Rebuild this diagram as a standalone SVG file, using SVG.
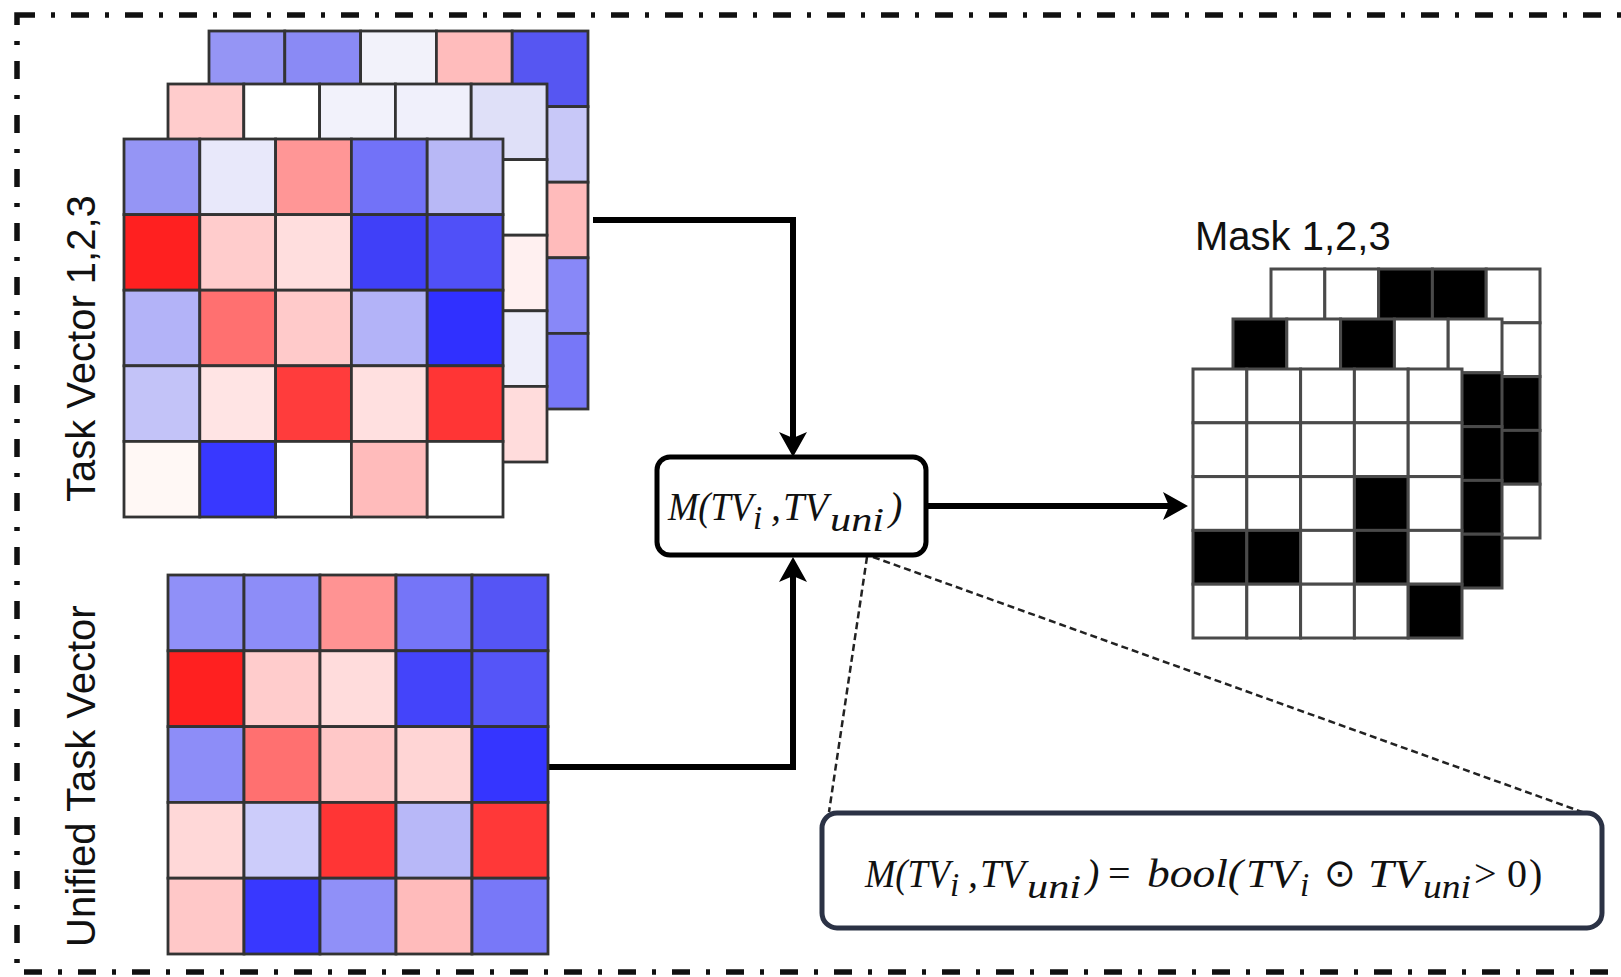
<svg xmlns="http://www.w3.org/2000/svg" width="1621" height="977" viewBox="0 0 1621 977">
<defs>
<style>
.c{stroke:#333;stroke-width:2.8}
.m{stroke:#4a4a4a;stroke-width:3}
.k{fill:#000}
.w{fill:#fff}
.lbl{font-family:"Liberation Sans",Arial,sans-serif;font-size:40px;fill:#111}
.mt{font-family:"Liberation Serif","Times New Roman",serif;font-style:italic;font-size:40px;fill:#111}
.ms{font-size:33px}
.mu{font-style:normal}
.conn{fill:none;stroke:#000;stroke-width:6}
.lead{fill:none;stroke:#222;stroke-width:2.5;stroke-dasharray:7 4}
</style>
<marker id="ah" markerUnits="userSpaceOnUse" viewBox="0 -15 30 30" refX="15" refY="0" markerWidth="30" markerHeight="30" orient="auto">
<path d="M0,-14 L25,0 L0,14 L6,0 Z" fill="#000"/>
</marker>
</defs>
<rect id="frame" x="17" y="15" width="1640" height="957" fill="none" stroke="#111" stroke-width="5.5" stroke-dasharray="18 16 4 16"/>

<g id="connectors">
<path class="lead" d="M867,557 L829,812"/>
<path class="lead" d="M873,557 L1585,813"/>
<path class="conn" d="M593,220 H793 V447" marker-end="url(#ah)"/>
<path class="conn" d="M548,767 H793 V567" marker-end="url(#ah)"/>
<path class="conn" d="M926,506 H1178" marker-end="url(#ah)"/>
</g>

<g id="task-vectors">
<g id="tv3" transform="translate(209,31)" class="c">
<rect x="0" y="0" width="75.8" height="75.6" fill="#9595f5"/>
<rect x="75.8" y="0" width="75.8" height="75.6" fill="#8a8af5"/>
<rect x="151.6" y="0" width="75.8" height="75.6" fill="#f2f2fa"/>
<rect x="227.4" y="0" width="75.8" height="75.6" fill="#ffbcbc"/>
<rect x="303.2" y="0" width="75.8" height="75.6" fill="#5656f2"/>
<rect x="303.2" y="75.6" width="75.8" height="75.6" fill="#c8c8f8"/>
<rect x="303.2" y="151.2" width="75.8" height="75.6" fill="#ffbbbb"/>
<rect x="303.2" y="226.8" width="75.8" height="75.6" fill="#8888f8"/>
<rect x="303.2" y="302.4" width="75.8" height="75.6" fill="#7777f8"/>
</g>
<g id="tv2" transform="translate(168,84)" class="c">
<rect x="0" y="0" width="75.8" height="75.6" fill="#ffcccc"/>
<rect x="75.8" y="0" width="75.8" height="75.6" fill="#ffffff"/>
<rect x="151.6" y="0" width="75.8" height="75.6" fill="#f2f2fb"/>
<rect x="227.4" y="0" width="75.8" height="75.6" fill="#f0f0fb"/>
<rect x="303.2" y="0" width="75.8" height="75.6" fill="#dfe0f8"/>
<rect x="303.2" y="75.6" width="75.8" height="75.6" fill="#ffffff"/>
<rect x="303.2" y="151.2" width="75.8" height="75.6" fill="#fff0f0"/>
<rect x="303.2" y="226.8" width="75.8" height="75.6" fill="#eeeefa"/>
<rect x="303.2" y="302.4" width="75.8" height="75.6" fill="#ffdcdc"/>
</g>
<g id="tv1" transform="translate(124,139)" class="c">
<rect x="0" y="0" width="75.8" height="75.6" fill="#9595f5"/>
<rect x="75.8" y="0" width="75.8" height="75.6" fill="#e8e8fa"/>
<rect x="151.6" y="0" width="75.8" height="75.6" fill="#ff9696"/>
<rect x="227.4" y="0" width="75.8" height="75.6" fill="#7272f8"/>
<rect x="303.2" y="0" width="75.8" height="75.6" fill="#b8b8f6"/>
<rect x="0" y="75.6" width="75.8" height="75.6" fill="#ff2020"/>
<rect x="75.8" y="75.6" width="75.8" height="75.6" fill="#ffcccc"/>
<rect x="151.6" y="75.6" width="75.8" height="75.6" fill="#ffdede"/>
<rect x="227.4" y="75.6" width="75.8" height="75.6" fill="#4040f8"/>
<rect x="303.2" y="75.6" width="75.8" height="75.6" fill="#5050f8"/>
<rect x="0" y="151.2" width="75.8" height="75.6" fill="#b3b3f8"/>
<rect x="75.8" y="151.2" width="75.8" height="75.6" fill="#ff7070"/>
<rect x="151.6" y="151.2" width="75.8" height="75.6" fill="#ffcaca"/>
<rect x="227.4" y="151.2" width="75.8" height="75.6" fill="#b3b3f8"/>
<rect x="303.2" y="151.2" width="75.8" height="75.6" fill="#3030ff"/>
<rect x="0" y="226.8" width="75.8" height="75.6" fill="#c3c3f8"/>
<rect x="75.8" y="226.8" width="75.8" height="75.6" fill="#ffe4e4"/>
<rect x="151.6" y="226.8" width="75.8" height="75.6" fill="#ff3c3c"/>
<rect x="227.4" y="226.8" width="75.8" height="75.6" fill="#ffe0e0"/>
<rect x="303.2" y="226.8" width="75.8" height="75.6" fill="#ff3535"/>
<rect x="0" y="302.4" width="75.8" height="75.6" fill="#fff8f5"/>
<rect x="75.8" y="302.4" width="75.8" height="75.6" fill="#3838ff"/>
<rect x="151.6" y="302.4" width="75.8" height="75.6" fill="#ffffff"/>
<rect x="227.4" y="302.4" width="75.8" height="75.6" fill="#ffbbbb"/>
<rect x="303.2" y="302.4" width="75.8" height="75.6" fill="#ffffff"/>
</g>
<text class="lbl" transform="translate(95,502) rotate(-90)">Task Vector 1,2,3</text>
</g>

<g id="unified-task-vector">
<g transform="translate(168,575)" class="c">
<rect x="0" y="0" width="76" height="75.8" fill="#9090f8"/>
<rect x="76" y="0" width="76" height="75.8" fill="#8d8df8"/>
<rect x="152" y="0" width="76" height="75.8" fill="#ff9393"/>
<rect x="228" y="0" width="76" height="75.8" fill="#7575f8"/>
<rect x="304" y="0" width="76" height="75.8" fill="#5555f5"/>
<rect x="0" y="75.8" width="76" height="75.8" fill="#ff2020"/>
<rect x="76" y="75.8" width="76" height="75.8" fill="#ffcccc"/>
<rect x="152" y="75.8" width="76" height="75.8" fill="#ffdcdc"/>
<rect x="228" y="75.8" width="76" height="75.8" fill="#4444fa"/>
<rect x="304" y="75.8" width="76" height="75.8" fill="#5555f8"/>
<rect x="0" y="151.6" width="76" height="75.8" fill="#8d8df8"/>
<rect x="76" y="151.6" width="76" height="75.8" fill="#ff7070"/>
<rect x="152" y="151.6" width="76" height="75.8" fill="#ffc8c8"/>
<rect x="228" y="151.6" width="76" height="75.8" fill="#ffd5d5"/>
<rect x="304" y="151.6" width="76" height="75.8" fill="#3535ff"/>
<rect x="0" y="227.4" width="76" height="75.8" fill="#ffd8d8"/>
<rect x="76" y="227.4" width="76" height="75.8" fill="#ccccfa"/>
<rect x="152" y="227.4" width="76" height="75.8" fill="#ff3535"/>
<rect x="228" y="227.4" width="76" height="75.8" fill="#b8b8f8"/>
<rect x="304" y="227.4" width="76" height="75.8" fill="#ff3838"/>
<rect x="0" y="303.2" width="76" height="75.8" fill="#ffc8c8"/>
<rect x="76" y="303.2" width="76" height="75.8" fill="#3838ff"/>
<rect x="152" y="303.2" width="76" height="75.8" fill="#9090f8"/>
<rect x="228" y="303.2" width="76" height="75.8" fill="#ffbbbb"/>
<rect x="304" y="303.2" width="76" height="75.8" fill="#7878f8"/>
</g>
<text class="lbl" transform="translate(95,947) rotate(-90)">Unified Task Vector</text>
</g>

<g id="mask-op">
<rect x="657" y="457" width="269" height="98" rx="13" fill="#fff" stroke="#000" stroke-width="5"/>
<text class="mt" x="668" y="520"><tspan x="668" y="520" textLength="85" lengthAdjust="spacingAndGlyphs">M(TV</tspan><tspan class="ms" x="753" y="529">i</tspan><tspan x="771" y="520">,</tspan><tspan x="783" y="520" textLength="45" lengthAdjust="spacingAndGlyphs">TV</tspan><tspan class="ms" x="830" y="531" textLength="54" lengthAdjust="spacingAndGlyphs">uni</tspan><tspan x="889" y="520">)</tspan></text>
</g>

<g id="masks">
<text class="lbl" x="1195" y="250">Mask 1,2,3</text>
<g id="mask3" transform="translate(1271,269)" class="m">
<rect class="w" x="0" y="0" width="53.8" height="53.8"/>
<rect class="w" x="53.8" y="0" width="53.8" height="53.8"/>
<rect class="k" x="107.6" y="0" width="53.8" height="53.8"/>
<rect class="k" x="161.4" y="0" width="53.8" height="53.8"/>
<rect class="w" x="215.2" y="0" width="53.8" height="53.8"/>
<rect class="w" x="215.2" y="53.8" width="53.8" height="53.8"/>
<rect class="k" x="215.2" y="107.6" width="53.8" height="53.8"/>
<rect class="k" x="215.2" y="161.4" width="53.8" height="53.8"/>
<rect class="w" x="215.2" y="215.2" width="53.8" height="53.8"/>
</g>
<g id="mask2" transform="translate(1233,319)" class="m">
<rect class="k" x="0" y="0" width="53.8" height="53.8"/>
<rect class="w" x="53.8" y="0" width="53.8" height="53.8"/>
<rect class="k" x="107.6" y="0" width="53.8" height="53.8"/>
<rect class="w" x="161.4" y="0" width="53.8" height="53.8"/>
<rect class="w" x="215.2" y="0" width="53.8" height="53.8"/>
<rect class="k" x="215.2" y="53.8" width="53.8" height="53.8"/>
<rect class="k" x="215.2" y="107.6" width="53.8" height="53.8"/>
<rect class="k" x="215.2" y="161.4" width="53.8" height="53.8"/>
<rect class="k" x="215.2" y="215.2" width="53.8" height="53.8"/>
</g>
<g id="mask1" transform="translate(1193,369)" class="m">
<rect class="w" x="0" y="0" width="53.8" height="53.8"/>
<rect class="w" x="53.8" y="0" width="53.8" height="53.8"/>
<rect class="w" x="107.6" y="0" width="53.8" height="53.8"/>
<rect class="w" x="161.4" y="0" width="53.8" height="53.8"/>
<rect class="w" x="215.2" y="0" width="53.8" height="53.8"/>
<rect class="w" x="0" y="53.8" width="53.8" height="53.8"/>
<rect class="w" x="53.8" y="53.8" width="53.8" height="53.8"/>
<rect class="w" x="107.6" y="53.8" width="53.8" height="53.8"/>
<rect class="w" x="161.4" y="53.8" width="53.8" height="53.8"/>
<rect class="w" x="215.2" y="53.8" width="53.8" height="53.8"/>
<rect class="w" x="0" y="107.6" width="53.8" height="53.8"/>
<rect class="w" x="53.8" y="107.6" width="53.8" height="53.8"/>
<rect class="w" x="107.6" y="107.6" width="53.8" height="53.8"/>
<rect class="k" x="161.4" y="107.6" width="53.8" height="53.8"/>
<rect class="w" x="215.2" y="107.6" width="53.8" height="53.8"/>
<rect class="k" x="0" y="161.4" width="53.8" height="53.8"/>
<rect class="k" x="53.8" y="161.4" width="53.8" height="53.8"/>
<rect class="w" x="107.6" y="161.4" width="53.8" height="53.8"/>
<rect class="k" x="161.4" y="161.4" width="53.8" height="53.8"/>
<rect class="w" x="215.2" y="161.4" width="53.8" height="53.8"/>
<rect class="w" x="0" y="215.2" width="53.8" height="53.8"/>
<rect class="w" x="53.8" y="215.2" width="53.8" height="53.8"/>
<rect class="w" x="107.6" y="215.2" width="53.8" height="53.8"/>
<rect class="w" x="161.4" y="215.2" width="53.8" height="53.8"/>
<rect class="k" x="215.2" y="215.2" width="53.8" height="53.8"/>
</g>
</g>

<g id="formula">
<rect x="822" y="813" width="780" height="115" rx="15" fill="#fff" stroke="#2b3245" stroke-width="5"/>
<text class="mt" x="865" y="887"><tspan x="865" y="887" textLength="85" lengthAdjust="spacingAndGlyphs">M(TV</tspan><tspan class="ms" x="950" y="896">i</tspan><tspan x="968" y="887">,</tspan><tspan x="980" y="887" textLength="45" lengthAdjust="spacingAndGlyphs">TV</tspan><tspan class="ms" x="1027" y="898" textLength="54" lengthAdjust="spacingAndGlyphs">uni</tspan><tspan x="1086" y="887">)</tspan><tspan class="mu" x="1108" y="887">=</tspan><tspan x="1147" y="887" textLength="96" lengthAdjust="spacingAndGlyphs">bool(</tspan><tspan x="1246" y="887" textLength="52" lengthAdjust="spacingAndGlyphs">TV</tspan><tspan class="ms" x="1300" y="896">i</tspan><tspan x="1324" y="886" style="font-family:'DejaVu Sans',sans-serif;font-style:normal;font-size:38px">⊙</tspan><tspan x="1368" y="887" textLength="54" lengthAdjust="spacingAndGlyphs">TV</tspan><tspan class="ms" x="1423" y="898" textLength="48" lengthAdjust="spacingAndGlyphs">uni</tspan><tspan class="mu" x="1474" y="887">&gt;</tspan><tspan class="mu" x="1507" y="887">0</tspan><tspan class="mu" x="1529" y="887">)</tspan></text>
</g>
</svg>
